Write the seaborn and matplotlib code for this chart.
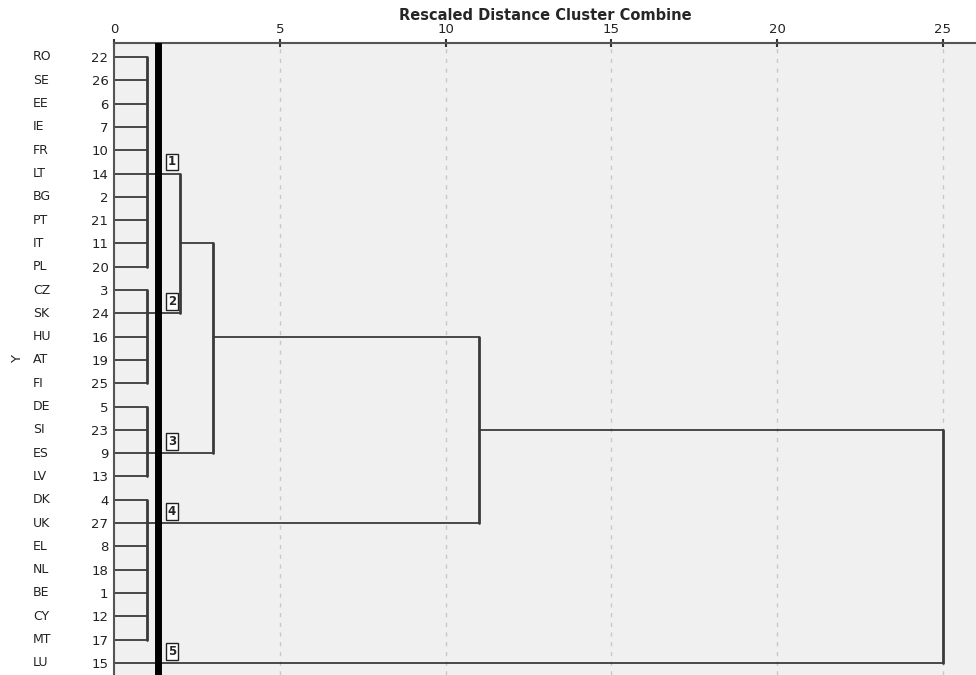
import numpy as np
import pandas as pd
import seaborn as sns
import matplotlib.pyplot as plt

# Leaves of the dendrogram, top to bottom
countries = ["RO", "SE", "EE", "IE", "FR", "LT", "BG", "PT", "IT", "PL",
             "CZ", "SK", "HU", "AT", "FI",
             "DE", "SI", "ES", "LV",
             "DK", "UK", "EL", "NL", "BE", "CY", "MT",
             "LU"]
case_ids = [22, 26, 6, 7, 10, 14, 2, 21, 11, 20,
            3, 24, 16, 19, 25,
            5, 23, 9, 13,
            4, 27, 8, 18, 1, 12, 17,
            15]

# First-level clusters: (first row, last row, row carrying the link), joined at 1.0
group_first = [0, 10, 15, 19, 26]
group_last = [9, 14, 18, 25, 26]
group_anchor = [5, 11, 17, 20, 26]
group_names = ["1", "2", "3", "4", "5"]
leaf_height = 1.0

# Higher merges: (child a, child b, rescaled distance, row carrying the link)
merge_a = ["g0", "m0", "m1", "m2"]
merge_b = ["g1", "g2", "g3", "g4"]
merge_height = [2.0, 3.0, 11.0, 25.0]
merge_anchor = [8, 12, 16, None]

cut_off = 1.33

# ---- build the segments ----
node_row = {}
for i in range(len(group_first)):
    node_row["g%d" % i] = group_anchor[i]

parent_height = {}
for k in range(len(merge_a)):
    parent_height[merge_a[k]] = merge_height[k]
    parent_height[merge_b[k]] = merge_height[k]
    node_row["m%d" % k] = merge_anchor[k]

hrows = []
vrows = []
seg = 0
for i in range(len(group_first)):
    g = "g%d" % i
    for r in range(group_first[i], group_last[i] + 1):
        x_end = parent_height[g] if r == group_anchor[i] else leaf_height
        hrows += [(0.0, r, seg), (x_end, r, seg)]
        seg += 1
    if group_first[i] != group_last[i]:
        vrows += [(leaf_height, group_first[i], seg), (leaf_height, group_last[i], seg)]
        seg += 1
for k in range(len(merge_a)):
    m = "m%d" % k
    vrows += [(merge_height[k], node_row[merge_a[k]], seg),
              (merge_height[k], node_row[merge_b[k]], seg)]
    seg += 1
    if m in parent_height:
        hrows += [(merge_height[k], merge_anchor[k], seg), (parent_height[m], merge_anchor[k], seg)]
        seg += 1

df_h = pd.DataFrame(hrows, columns=["x", "y", "seg"])
df_v = pd.DataFrame(vrows, columns=["x", "y", "seg"])

# ---- draw ----
sns.set_style("white")
plt.rcParams['font.family'] = ['DejaVu Sans']

fig = plt.figure(figsize=(9.76, 6.75), dpi=100)
ax = fig.add_axes([114 / 976, 0, 862 / 976, (675 - 43) / 675])
ax.set_facecolor("#f0f0f0")

for t in [5, 10, 15, 20, 25]:
    ax.axvline(t, color="#c8c8c8", lw=1, ls=(0, (3, 4)), zorder=0)

sns.lineplot(data=df_h, x="x", y="y", units="seg", estimator=None, sort=False,
             color="#1a1a1a", lw=1.1, ax=ax)
sns.lineplot(data=df_v, x="x", y="y", units="seg", estimator=None, sort=False,
             color="#3a3a3a", lw=2.0, ax=ax)

ax.axvline(cut_off, color="black", lw=5, zorder=5)

for i, name in enumerate(group_names):
    ax.text(1.75, group_anchor[i] - 0.5, name, fontsize=8.5, fontweight="bold",
            ha="center", va="center", zorder=6,
            bbox=dict(boxstyle="square,pad=0.15", fc="white", ec="#222222", lw=1))

ax.set_xlim(0, 26.0)
ax.set_ylim(26.52, -0.6)

ax.xaxis.tick_top()
ax.xaxis.set_label_position("top")
ax.set_xticks([0, 5, 10, 15, 20, 25])
ax.tick_params(axis="x", direction="inout", length=6, width=1.5, color="#333333",
               labelsize=9.5, pad=2, labelcolor="#222222")
ax.set_xlabel("Rescaled Distance Cluster Combine", fontsize=10.5, fontweight="bold", labelpad=2)

ax.set_yticks(range(len(case_ids)))
ax.set_yticklabels([str(c) for c in case_ids])
ax.tick_params(axis="y", length=0, labelsize=9.5, pad=4, colors="#222222")

tr = ax.get_yaxis_transform()
for r, c in enumerate(countries):
    ax.text(-0.094, r, c, transform=tr, ha="left", va="center", fontsize=9, color="#222222")

ax.set_ylabel("Y", fontsize=9.5, color="#222222")
ax.yaxis.set_label_coords(-0.104, 0.5)

for s in ["right", "bottom"]:
    ax.spines[s].set_visible(False)
for s in ["top", "left"]:
    ax.spines[s].set_color("#555555")
    ax.spines[s].set_linewidth(1.5)

fig.savefig("out.png", dpi=100)
